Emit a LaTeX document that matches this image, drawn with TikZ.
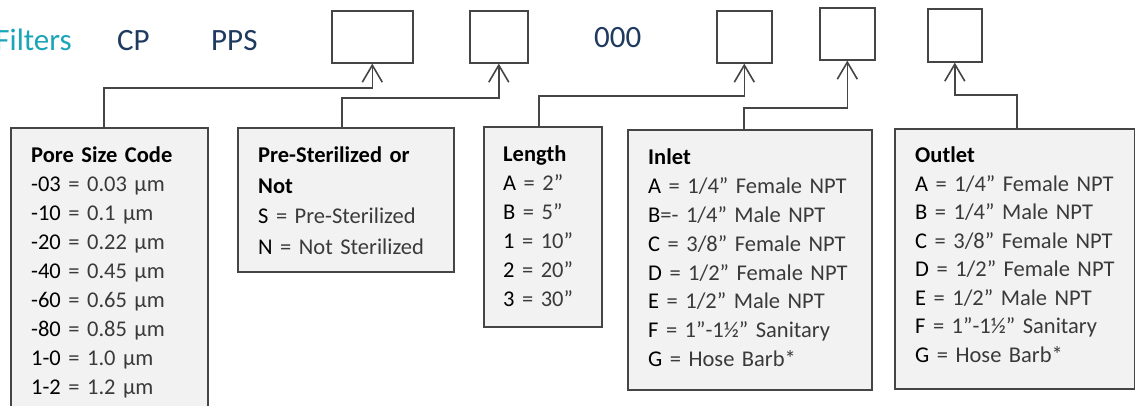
\documentclass[tikz,border=0pt]{standalone}
\usepackage{fontspec}
\setmainfont{Carlito}
\usetikzlibrary{arrows.meta}
\definecolor{linegray}{HTML}{454545}
\definecolor{boxfill}{HTML}{F2F2F2}
\definecolor{tealtxt}{HTML}{1AA5B8}
\definecolor{navytxt}{HTML}{1F3A5F}
\definecolor{txtgray}{HTML}{3A3A3A}
\newcommand{\cd}[1]{\textcolor{black}{#1}}
\begin{document}
\begin{tikzpicture}[x=1pt,y=-1pt,
  slot/.style={draw=linegray, line width=1.6pt, fill=white, anchor=north west, inner sep=0pt},
  keybox/.style={draw=linegray, line width=1.6pt, fill=boxfill, anchor=north west, inner sep=0pt},
  keytxt/.style={anchor=base west, inner sep=0pt, text width=#1, align=left, font=\fontsize{22.5}{29}\selectfont, text=txtgray},
  head/.style={font=\fontsize{31}{36}\selectfont, anchor=base west, inner sep=0pt},
  conn/.style={draw=linegray, line width=1.6pt, -{Straight Barb[length=17pt,width=20pt]}}]
\useasboundingbox (0,0) rectangle (1135,406);
\clip (0,0) rectangle (1135,406);
% header
\node[head, text=tealtxt, anchor=base east] (filt) at (72,51) {Filters};
\node[head, text=navytxt] (cp) at (117,51) {CP};
\node[head, text=navytxt] (pps) at (211,51) {PPS};
\node[head, text=navytxt] (zeros) at (594,48) {000};
% slots
\node[slot, minimum width=81pt, minimum height=52pt] (b1) at (331,10) {};
\node[slot, minimum width=58pt, minimum height=52pt] (b2) at (469,10) {};
\node[slot, minimum width=55pt, minimum height=52pt] (b3) at (716,10) {};
\node[slot, minimum width=55pt, minimum height=52pt] (b4) at (819,7) {};
\node[slot, minimum width=54pt, minimum height=53pt] (b5) at (927,8) {};
% key boxes
\node[keybox, minimum width=197pt, minimum height=300pt] (pore) at (10,127) {};
\node[keybox, minimum width=216pt, minimum height=144pt] (pre) at (237,127) {};
\node[keybox, minimum width=118pt, minimum height=200pt] (len) at (483,126) {};
\node[keybox, minimum width=244pt, minimum height=260pt] (inl) at (627,129) {};
\node[keybox, minimum width=240pt, minimum height=260pt] (outl) at (894,128) {};
% key texts
\node[keytxt=180pt] (poretxt) at (31,163) {\textbf{\cd{Pore Size Code}}\\
\cd{-03} = 0.03 µm\\
\cd{-10} = 0.1 µm\\
\cd{-20} = 0.22 µm\\
\cd{-40} = 0.45 µm\\
\cd{-60} = 0.65 µm\\
\cd{-80} = 0.85 µm\\
\cd{1-0} = 1.0 µm\\
\cd{1-2} = 1.2 µm};
\node[keytxt=200pt, font=\fontsize{22.5}{30.5}\selectfont] (pretxt) at (258,163) {\textbf{\cd{Pre-Sterilized or}}\\
\textbf{\cd{Not}}\\
\cd{S} = Pre-Sterilized\\
\cd{N} = Not Sterilized};
\node[keytxt=100pt] (lentxt) at (503,162) {\textbf{\cd{Length}}\\
\cd{A} = 2”\\
\cd{B} = 5”\\
\cd{1} = 10”\\
\cd{2} = 20”\\
\cd{3} = 30”};
\node[keytxt=225pt, font=\fontsize{22.5}{28.8}\selectfont] (inltxt) at (648,165) {\textbf{\cd{Inlet}}\\
\cd{A} = 1/4” Female NPT\\
\cd{B}=- 1/4” Male NPT\\
\cd{C} = 3/8” Female NPT\\
\cd{D} = 1/2” Female NPT\\
\cd{E} = 1/2” Male NPT\\
\cd{F} = 1”-1½” Sanitary\\
\cd{G} = Hose Barb*};
\node[keytxt=220pt, font=\fontsize{22.5}{28.5}\selectfont] (outtxt) at (915,163) {\textbf{\cd{Outlet}}\\
\cd{A} = 1/4” Female NPT\\
\cd{B} = 1/4” Male NPT\\
\cd{C} = 3/8” Female NPT\\
\cd{D} = 1/2” Female NPT\\
\cd{E} = 1/2” Male NPT\\
\cd{F} = 1”-1½” Sanitary\\
\cd{G} = Hose Barb*};
% connectors
\coordinate (k1) at (104,88);
\coordinate (k2) at (342,98);
\coordinate (k3) at (539,96);
\coordinate (k4) at (744,108);
\coordinate (k5) at (1017,95);
\draw[conn] (pore.north -| k1) -- (k1) -| (b1.south);
\draw[conn] (pre.north -| k2) -- (k2) -| (b2.south);
\draw[conn] (len.north -| k3) -- (k3) -| (b3.south);
\draw[conn] (inl.north -| k4) -- (k4) -| (b4.south);
\draw[conn] (outl.north -| k5) -- (k5) -| (b5.south);
\end{tikzpicture}
\end{document}
